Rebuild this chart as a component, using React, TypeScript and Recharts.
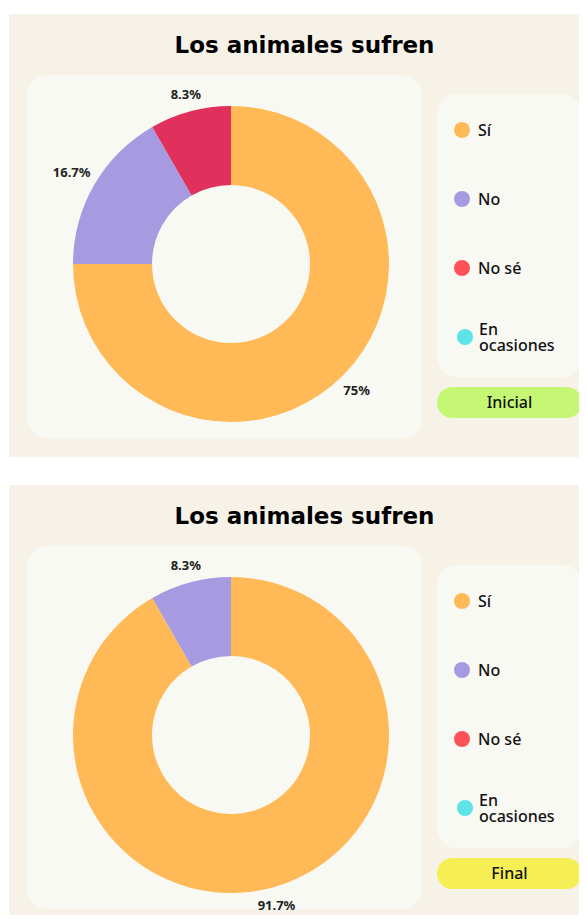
import { PieChart, Pie, Cell } from "recharts";

const CATEGORIES = ["Sí", "No", "No sé", "En ocasiones"];
const INICIAL = [75, 16.7, 8.3, 0];
const FINAL = [91.7, 8.3, 0, 0];

const SLICE_COLORS = ["#ffb957", "#a69be0", "#e0305c", "#5ee3e8"];
const LEGEND_COLORS = ["#ffb957", "#a69be0", "#ff5258", "#5ee3e8"];

const RADIAN = Math.PI / 180;

const renderLabel = (props: any) => {
  const { cx, cy, midAngle, outerRadius, value } = props;
  if (!value) return null;
  const text = `${value}%`;
  const cos = Math.cos(-midAngle * RADIAN);
  const sin = Math.sin(-midAngle * RADIAN);
  // push the label out by half its box, like an "end/end" aligned label
  const r = outerRadius + 7 + text.length * 3.6 * Math.abs(cos) + 7 * Math.abs(sin);
  return (
    <text
      x={cx + r * cos}
      y={cy + r * sin}
      textAnchor="middle"
      dominantBaseline="central"
      fontFamily="'Noto Sans', sans-serif"
      fontWeight={700}
      fontSize={13}
      fill="#222"
    >
      {text}
    </text>
  );
};

function Panel({
  top,
  values,
  button,
  buttonColor,
}: {
  top: number;
  values: number[];
  button: string;
  buttonColor: string;
}) {
  const data = CATEGORIES.map((name, i) => ({ name, value: values[i] }));

  return (
    <div
      style={{
        position: "absolute",
        left: 9,
        top,
        width: 591,
        height: 443,
        background: "#f7f2e8",
      }}
    >
      <div
        style={{
          position: "absolute",
          left: 0,
          top: 17,
          width: "100%",
          height: 28,
          lineHeight: "28px",
          textAlign: "center",
          fontFamily: "'DejaVu Sans', sans-serif",
          fontWeight: 900,
          fontSize: 23,
          color: "#000",
        }}
      >
        Los animales sufren
      </div>

      <div
        style={{
          position: "absolute",
          left: 18,
          top: 61,
          width: 395,
          height: 363,
          borderRadius: 20,
          background: "#f9f9f4",
        }}
      >
        <PieChart width={395} height={385}>
          <Pie
            data={data}
            dataKey="value"
            cx={199}
            cy={184}
            innerRadius={79}
            outerRadius={158}
            startAngle={90}
            endAngle={-270}
            stroke="none"
            label={renderLabel}
            labelLine={false}
            isAnimationActive={false}
          >
            {data.map((_, i) => (
              <Cell key={i} fill={SLICE_COLORS[i]} />
            ))}
          </Pie>
        </PieChart>
      </div>

      <div
        style={{
          position: "absolute",
          left: 428,
          top: 80,
          width: 145,
          height: 283,
          borderRadius: 20,
          background: "#f9f9f4",
          fontFamily: "'Noto Sans', sans-serif",
          fontSize: 16,
          fontWeight: 500,
          color: "#111",
        }}
      >
        {CATEGORIES.map((name, i) => (
          <div
            key={name}
            style={{
              position: "absolute",
              left: i === 3 ? 20 : 17,
              top: 36 + i * 69 - 12,
              height: 24,
              display: "flex",
              alignItems: "center",
            }}
          >
            <span
              style={{
                width: 16,
                height: 16,
                borderRadius: 8,
                background: LEGEND_COLORS[i],
                marginRight: i === 3 ? 6 : 8,
                flexShrink: 0,
              }}
            />
            <span style={{ lineHeight: "16px", width: 90 }}>{name}</span>
          </div>
        ))}
      </div>

      <div
        style={{
          position: "absolute",
          left: 428,
          top: 373,
          width: 145,
          height: 31,
          borderRadius: 16,
          background: buttonColor,
          textAlign: "center",
          lineHeight: "31px",
          fontFamily: "'Noto Sans', sans-serif",
          fontSize: 16,
          fontWeight: 500,
          color: "#111",
        }}
      >
        {button}
      </div>
    </div>
  );
}

export default function App() {
  return (
    <div
      style={{
        position: "relative",
        margin: -8,
        width: 587,
        height: 923,
        overflow: "hidden",
        background: "#fff",
      }}
    >
      <Panel top={14} values={INICIAL} button="Inicial" buttonColor="#c5f774" />
      <Panel top={485} values={FINAL} button="Final" buttonColor="#f5ee55" />
    </div>
  );
}
